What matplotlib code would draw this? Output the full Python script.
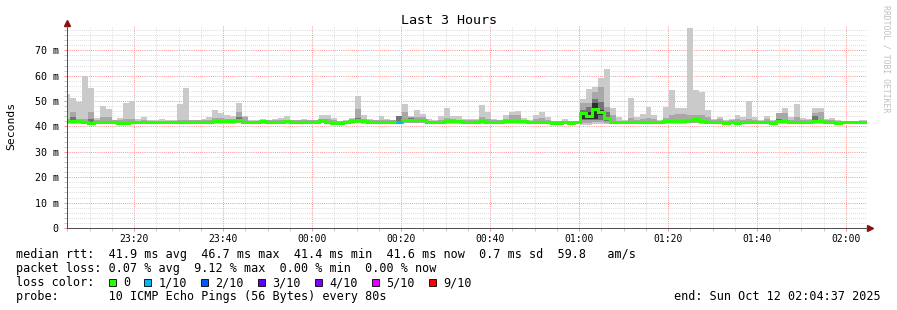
import numpy as np
import matplotlib
matplotlib.use("Agg")
import matplotlib.pyplot as plt
import matplotlib.transforms as mtransforms
from matplotlib.patches import Rectangle

W, H = 897, 310
MONO = "DejaVu Sans Mono"

# time axis in minutes relative to 00:00, one bin per 80 s step
bin_start = -55.72
step_min = 80 / 60
t_left, t_right = -55.06, 124.72

# median rtt per step (ms)
median = [42.2, 42.3, 42.2, 41.9, 41.5, 41.8, 41.9, 41.9, 41.7, 41.5,
          41.5, 41.6, 41.6, 41.8, 41.7, 41.7, 41.6, 41.7, 41.7, 41.8,
          41.8, 41.7, 41.9, 41.9, 41.8, 42.0, 42.1, 42.2, 42.1, 42.6,
          41.6, 41.6, 41.7, 42.2, 41.7, 41.8, 41.9, 42.0, 41.7, 41.6,
          41.6, 41.6, 41.6, 42.4, 41.8, 41.5, 41.5, 41.6, 42.3, 42.4,
          42.2, 41.9, 41.8, 41.9, 41.8, 41.7, 41.9, 42.5, 42.7, 42.6,
          42.4, 41.6, 41.6, 41.7, 42.0, 42.1, 42.0, 41.9, 41.9, 41.9,
          42.0, 41.8, 41.8, 41.7, 42.2, 42.3, 42.2, 42.0, 41.6, 41.7,
          41.8, 41.9, 41.5, 41.5, 41.6, 41.5, 41.6, 45.3, 44.0, 46.7,
          45.6, 43.2, 41.8, 41.6, 41.6, 41.9, 41.7, 41.8, 41.8, 41.6,
          41.8, 42.1, 42.2, 42.0, 42.2, 42.4, 42.8, 42.3, 41.8, 41.6,
          41.7, 41.5, 41.8, 41.5, 41.6, 41.8, 41.6, 41.7, 41.6, 41.5,
          42.0, 42.1, 41.7, 41.8, 41.6, 41.9, 42.1, 42.2, 41.8, 41.6,
          41.4, 41.6, 41.6, 41.6, 41.6, 41.6]

# smoke: slowest ping per step (ms)
ping_max = [52.7, 51.3, 49.7, 60.0, 55.2, 43.4, 48.1, 46.9, 42.6, 43.4,
            49.2, 50.2, 42.9, 43.9, 42.6, 42.6, 42.9, 42.6, 42.6, 48.9,
            55.2, 42.4, 42.6, 43.1, 43.9, 46.3, 45.2, 44.7, 44.2, 49.4,
            44.2, 42.6, 42.6, 43.1, 42.6, 42.8, 43.4, 44.2, 42.6, 42.6,
            43.1, 42.6, 42.6, 44.4, 44.4, 43.4, 42.1, 42.6, 43.4, 52.1,
            44.4, 42.9, 42.6, 44.2, 43.1, 42.6, 44.2, 48.9, 44.2, 46.3,
            45.0, 43.1, 42.4, 44.2, 47.1, 44.2, 44.2, 42.9, 43.1, 43.1,
            48.6, 45.5, 43.1, 42.6, 44.7, 45.7, 46.0, 43.4, 42.6, 44.4,
            45.5, 43.7, 42.1, 42.1, 43.1, 42.1, 42.3, 50.7, 54.9, 55.7,
            58.9, 62.8, 47.3, 43.7, 42.6, 51.3, 43.7, 45.0, 47.8, 44.4,
            42.6, 47.8, 54.4, 47.1, 47.1, 78.9, 54.2, 53.4, 46.3, 43.1,
            43.9, 42.6, 43.1, 44.7, 43.6, 50.0, 43.9, 42.6, 44.0, 42.6,
            45.2, 47.3, 43.9, 48.9, 43.4, 43.1, 47.1, 47.3, 43.1, 43.4,
            42.4, 42.0, 42.0, 42.0, 42.6, 42.6]

# smoke: inner pings (upper / lower of the middle band)
ping_hi = [43.0, 45.5, 43.0, 42.8, 45.5, 42.6, 43.9, 43.9, 42.4, 42.4,
           43.1, 43.1, 42.3, 42.4, 42.3, 42.3, 42.3, 42.3, 42.3, 42.6,
           42.6, 42.5, 42.5, 42.5, 42.5, 43.5, 43.5, 43.0, 42.8, 45.5,
           43.9, 42.3, 42.3, 42.6, 42.4, 42.4, 42.4, 42.6, 42.4, 42.4,
           42.4, 42.4, 42.4, 43.1, 43.1, 42.6, 42.2, 42.2, 42.9, 46.8,
           43.0, 42.4, 42.4, 42.6, 42.4, 42.4, 44.2, 45.5, 43.9, 43.9,
           43.9, 42.3, 42.2, 42.6, 43.5, 42.8, 42.6, 42.4, 42.5, 42.5,
           43.9, 42.8, 42.4, 42.4, 42.8, 44.7, 44.7, 42.6, 42.2, 42.8,
           43.2, 42.5, 42.1, 42.1, 42.1, 42.1, 42.1, 49.1, 49.4, 53.6,
           55.7, 47.5, 44.4, 42.3, 42.3, 43.5, 42.6, 42.9, 43.3, 42.8,
           42.3, 43.5, 44.7, 44.9, 44.9, 44.7, 44.7, 44.7, 43.9, 42.5,
           42.8, 42.2, 42.4, 43.0, 42.6, 43.1, 42.6, 42.3, 43.0, 42.3,
           45.2, 45.2, 42.6, 43.9, 42.4, 42.4, 45.2, 45.5, 42.6, 42.4,
           42.0, 42.0, 42.0, 42.0, 42.0, 42.0]

ping_lo = [41.3, 41.3, 41.3, 41.3, 41.2, 41.3, 41.3, 41.3, 41.3, 41.2,
           41.2, 41.3, 41.3, 41.3, 41.3, 41.3, 41.3, 41.3, 41.3, 41.3,
           41.3, 41.3, 41.3, 41.3, 41.3, 41.3, 41.3, 41.3, 41.3, 41.4,
           41.3, 41.3, 41.3, 41.3, 41.3, 41.3, 41.3, 41.3, 41.3, 41.3,
           41.3, 41.3, 41.3, 41.4, 41.3, 41.2, 41.2, 41.3, 41.3, 41.4,
           41.3, 41.3, 41.3, 41.3, 41.3, 41.3, 41.3, 41.4, 41.4, 41.4,
           41.4, 41.3, 41.3, 41.3, 41.3, 41.3, 41.3, 41.3, 41.3, 41.3,
           41.3, 41.3, 41.3, 41.3, 41.3, 41.3, 41.3, 41.3, 41.3, 41.3,
           41.3, 41.3, 41.2, 41.2, 41.3, 41.2, 41.3, 41.4, 41.4, 41.8,
           41.6, 41.5, 41.3, 41.3, 41.3, 41.3, 41.3, 41.3, 41.3, 41.3,
           41.3, 41.3, 41.3, 41.3, 41.3, 41.4, 41.4, 41.3, 41.3, 41.3,
           41.3, 41.2, 41.3, 41.2, 41.3, 41.3, 41.3, 41.3, 41.3, 41.2,
           41.3, 41.3, 41.3, 41.3, 41.3, 41.3, 41.3, 41.3, 41.3, 41.3,
           41.2, 41.3, 41.3, 41.3, 41.3, 41.3]

# smoke: fastest ping per step (ms)
ping_min = [41.1, 41.1, 41.1, 41.1, 41.0, 41.1, 41.1, 41.1, 41.1, 41.0,
            41.0, 41.1, 41.1, 41.1, 41.1, 41.1, 41.1, 41.1, 41.1, 41.1,
            41.1, 41.1, 41.1, 41.1, 41.1, 41.1, 41.1, 41.1, 41.1, 41.2,
            41.1, 41.1, 41.1, 41.1, 41.1, 41.1, 41.1, 41.1, 41.1, 41.1,
            41.1, 41.1, 41.1, 41.2, 41.1, 41.0, 41.0, 41.1, 41.1, 41.2,
            41.1, 41.1, 41.1, 41.1, 41.1, 41.1, 41.1, 41.2, 41.2, 41.2,
            41.2, 41.1, 41.1, 41.1, 41.1, 41.1, 41.1, 41.1, 41.1, 41.1,
            41.1, 41.1, 41.1, 41.1, 41.1, 41.1, 41.1, 41.1, 41.1, 41.1,
            41.1, 41.1, 41.0, 41.0, 41.1, 41.0, 41.1, 40.5, 40.6, 40.8,
            40.9, 40.9, 41.1, 41.1, 41.1, 41.1, 41.1, 41.1, 41.1, 41.1,
            41.1, 41.1, 41.1, 41.1, 41.1, 41.2, 41.2, 41.1, 41.1, 41.1,
            41.1, 41.0, 41.1, 41.0, 41.1, 41.1, 41.1, 41.1, 41.1, 41.0,
            41.1, 41.1, 41.1, 41.1, 41.1, 41.1, 41.1, 41.1, 41.1, 41.1,
            41.0, 41.1, 41.1, 41.1, 41.1, 41.1]

# darker smoke bands: step index -> (low, high) ms
dark_band = {1: (42.4, 43.6), 4: (41.8, 42.8), 29: (42.2, 43.9), 43: (41.9, 42.8),
             49: (42.0, 43.5), 56: (41.6, 44.2), 58: (42.2, 43.3), 60: (42.1, 43.0),
             87: (42.5, 46.5), 88: (42.4, 47.8), 89: (42.5, 50.7), 90: (42.6, 49.7),
             91: (42.3, 45.5), 105: (42.0, 42.9), 120: (41.9, 43.0), 126: (41.9, 44.2)}
darkest_band = {87: (42.9, 44.7), 88: (42.8, 45.5), 89: (43.1, 49.4), 90: (44.4, 46.5)}

# packet loss per step (pings lost out of 10), only non-zero steps
loss = {56: 1}

loss_levels = [0, 1, 2, 3, 4, 5, 9]
loss_labels = ["0", "1/10", "2/10", "3/10", "4/10", "5/10", "9/10"]
loss_colors = ["#26ff00", "#00b8ff", "#0059ff", "#5e00ff", "#7e00ff", "#dd00ff", "#ff0000"]

x_ticks = [-40, -20, 0, 20, 40, 60, 80, 100, 120]
x_labels = ["23:20", "23:40", "00:00", "00:20", "00:40", "01:00", "01:20", "01:40", "02:00"]
y_ticks = [0, 10, 20, 30, 40, 50, 60, 70]

rtt_stats = [41.9, 46.7, 41.4, 41.6, 0.7, 59.8]
loss_stats = [0.07, 9.12, 0.00, 0.00]
probe = "10 ICMP Echo Pings (56 Bytes) every 80s"
end_stamp = "Sun Oct 12 02:04:37 2025"

fig = plt.figure(figsize=(W / 100, H / 100), dpi=100)
ax = fig.add_axes([67 / W, (H - 228) / H, 800 / W, 79.5 * 2.539 / H])

edges = bin_start + step_min * np.arange(len(median) + 1)

# smoke
ax.stairs(ping_max, edges, baseline=ping_min, fill=True, color="#cacaca", lw=0, zorder=2)
ax.stairs(ping_hi, edges, baseline=ping_lo, fill=True, color="#a8a8a8", lw=0, zorder=3)
for b, (lo, hi) in dark_band.items():
    ax.stairs([hi], edges[b:b + 2], baseline=lo, fill=True, color="#747474", lw=0, zorder=4)
for b, (lo, hi) in darkest_band.items():
    ax.stairs([hi], edges[b:b + 2], baseline=lo, fill=True, color="#2e2e2e", lw=0, zorder=5)

# median line coloured by loss
ax.stairs(median, edges, baseline=None, color=loss_colors[0], lw=2.2, zorder=6)
for b, n in loss.items():
    c = loss_colors[loss_levels.index(n)] if n in loss_levels else loss_colors[-1]
    ax.stairs([median[b]], edges[b:b + 2], baseline=None, color=c, lw=2.2, zorder=7)

ax.set_xlim(t_left, t_right)
ax.set_ylim(0, 79.5)

ax.set_xticks(x_ticks)
ax.set_xticklabels(x_labels)
ax.set_xticks(np.arange(-55, 125, 5), minor=True)
ax.set_yticks(y_ticks)
ax.set_yticklabels(["0" if v == 0 else f"{v} m" for v in y_ticks])
ax.set_yticks(np.arange(0, 80, 2), minor=True)

ax.grid(which="minor", color="#d0d0d0", ls=(0, (1, 1.5)), lw=0.6)
ax.grid(which="major", color="#ff9090", ls=(0, (1, 1.2)), lw=0.7)
ax.set_axisbelow(True)

ax.tick_params(which="both", length=2, width=0.72)
ax.tick_params(axis="x", which="major", colors="#ff9090", labelcolor="black", pad=2,
               labelsize=7, labelfontfamily=MONO)
ax.tick_params(axis="x", which="minor", colors="#c8c8c8")
ax.tick_params(axis="y", which="major", colors="#ff9090", labelcolor="black", pad=4,
               labelsize=7.2, labelfontfamily=MONO)
ax.tick_params(axis="y", which="minor", colors="#c8c8c8")

for s in ["top", "right"]:
    ax.spines[s].set_visible(False)
for s in ["left", "bottom"]:
    ax.spines[s].set_color("#505050")
    ax.spines[s].set_linewidth(0.72)
    ax.spines[s].set_zorder(8)

# axis arrows
up = mtransforms.offset_copy(ax.transAxes, fig=fig, x=0, y=3, units="dots")
right = mtransforms.offset_copy(ax.transAxes, fig=fig, x=3, y=0, units="dots")
ax.plot([0], [1], marker="^", color="#8b1010", markersize=4.5, transform=up, clip_on=False)
ax.plot([1], [0], marker=">", color="#8b1010", markersize=4.5, transform=right, clip_on=False)


def px(x, y):
    return x / W, 1 - y / H


fig.text(*px(448.5, 24), "Last 3 Hours", ha="center", va="baseline", fontsize=9.6, family=MONO)
fig.text(*px(11, 126), "Seconds", rotation=90, ha="center", va="center", fontsize=8.2, family=MONO)
fig.text(*px(886, 5), "RRDTOOL / TOBI OETIKER", rotation=270, ha="center", va="top",
         fontsize=5.9, family=MONO, color="#c0c0c0")

lx, cw = 16, 7.12
fs = 8.5
line1 = ("median rtt:  {:.1f} ms avg  {:.1f} ms max  {:.1f} ms min  {:.1f} ms now  "
         "{:.1f} ms sd  {:.1f}   am/s").format(*rtt_stats)
line2 = "packet loss: {:.2f} % avg  {:.2f} % max  {:.2f} % min  {:.2f} % now".format(*loss_stats)
fig.text(*px(lx, 258), line1, ha="left", va="baseline", fontsize=fs, family=MONO)
fig.text(*px(lx, 272), line2, ha="left", va="baseline", fontsize=fs, family=MONO)
fig.text(*px(lx, 286), "loss color:", ha="left", va="baseline", fontsize=fs, family=MONO)
col = 13
for lab, c in zip(loss_labels, loss_colors):
    x0 = lx + col * cw
    fig.add_artist(Rectangle(px(x0, 285.5), 7 / W, 7 / H, facecolor=c, edgecolor="black",
                             lw=0.6, transform=fig.transFigure))
    fig.text(*px(x0 + 2 * cw, 286), lab, ha="left", va="baseline", fontsize=fs, family=MONO)
    col += 2 + len(lab) + 2
fig.text(*px(lx, 300), "probe:       " + probe, ha="left", va="baseline", fontsize=fs, family=MONO)
fig.text(*px(881, 300), "end: " + end_stamp, ha="right", va="baseline", fontsize=fs, family=MONO)

fig.savefig("out.png", dpi=100, facecolor="white")
